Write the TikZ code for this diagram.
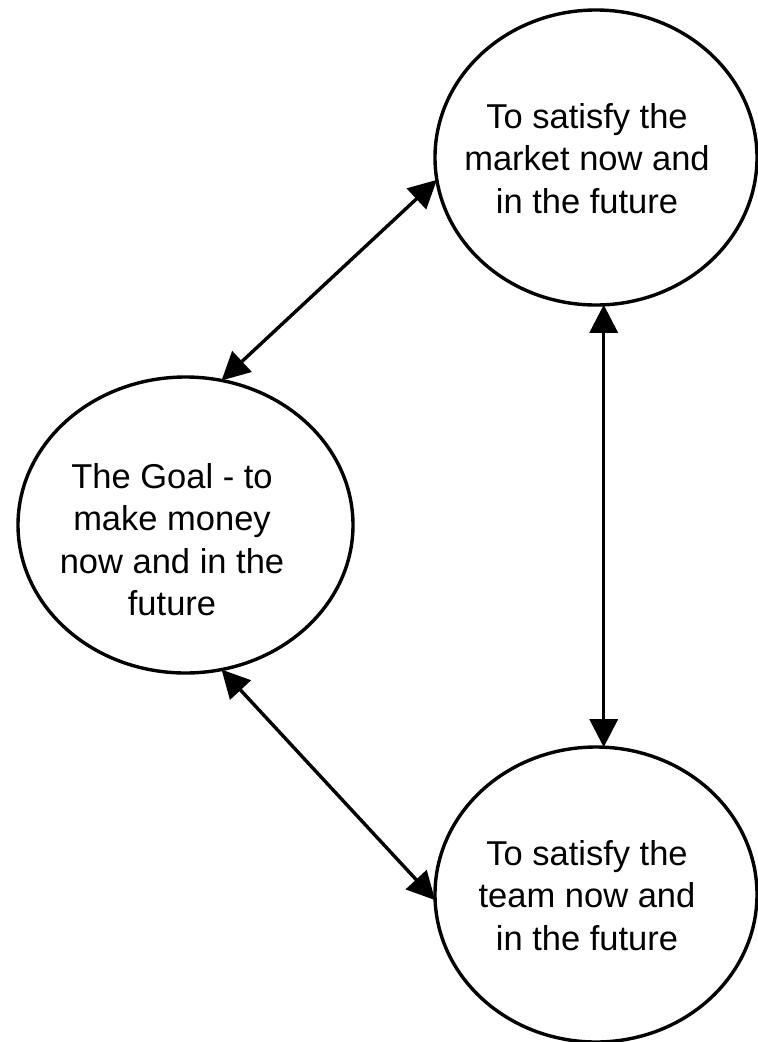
\documentclass[tikz,border=0pt]{standalone}
\usepackage{fontspec}
\setmainfont{Liberation Sans}
\usetikzlibrary{arrows.meta,shapes.geometric}
\begin{document}
\begin{tikzpicture}[x=1pt,y=-1pt,
  bubble/.style={draw=black, line width=3.4pt, ellipse, inner sep=0pt, outer sep=0pt},
  bubbletext/.style={anchor=north, align=center, inner sep=0pt,
    font=\fontsize{34.5}{42.5}\selectfont},
  link/.style={{Triangle[length=28pt,width=28pt]}-{Triangle[length=28pt,width=28pt]},
    line width=3.4pt}]
  % page frame
  \fill[white] (0,0) rectangle (758,1042);
  \useasboundingbox (0,0) rectangle (758,1042);

  % the three ellipses
  \node[bubble, minimum width=322pt, minimum height=295pt] (market) at (596,157.5) {};
  \node[bubble, minimum width=335pt, minimum height=296pt] (goal) at (185.5,525) {};
  \node[bubble, minimum width=322pt, minimum height=295pt] (team) at (596,894.5) {};

  % their texts
  \node[bubbletext] (marketText) at (587,103) {To satisfy the\\market now and\\in the future};
  \node[bubbletext] (goalText) at (172,463) {The Goal - to\\make money\\now and in the\\future};
  \node[bubbletext] (teamText) at (587,840) {To satisfy the\\team now and\\in the future};

  % two-way links
  \draw[link] (market.188) -- (goal.76);
  \draw[link] (market.-87.3) -- (team.87.3);
  \draw[link] (goal.-76) -- (team.182.5);
\end{tikzpicture}
\end{document}
